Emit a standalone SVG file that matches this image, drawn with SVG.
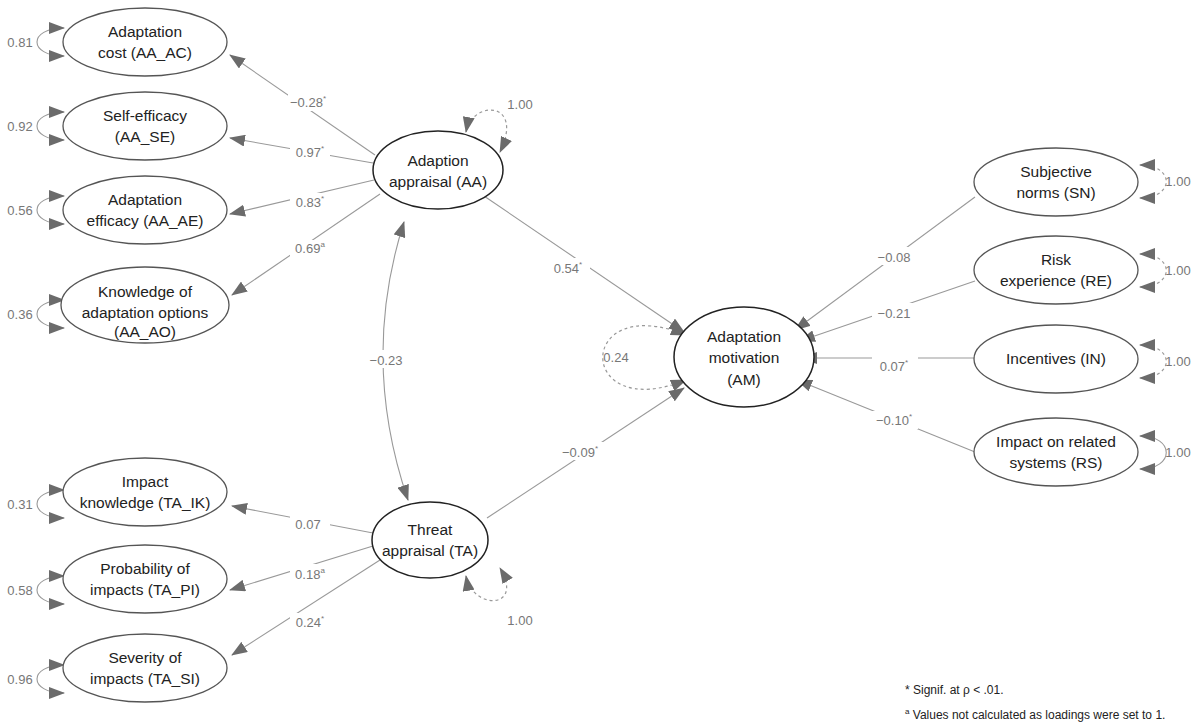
<svg xmlns="http://www.w3.org/2000/svg" width="1200" height="728" viewBox="0 0 1200 728">
<style>
text{font-family:"Liberation Sans",Arial,sans-serif}
.n ellipse{fill:#fff;stroke:#555;stroke-width:1.3}
.n text{font-size:15.5px;fill:#222;text-anchor:middle}
.lat ellipse{stroke:#222;stroke-width:1.5}
.c{stroke:#999;stroke-width:1.1;fill:none}
.d{stroke:#999;stroke-width:1.2;fill:none;stroke-dasharray:3 3}
.lb{font-size:13px;fill:#777;text-anchor:middle}
.bg{fill:#fff}
</style>
<defs>
<marker id="ah" markerWidth="16" markerHeight="12" refX="15" refY="6" orient="auto-start-reverse" markerUnits="userSpaceOnUse"><path d="M0,0L16,6L0,12Z" fill="#6b6b6b"/></marker>
</defs>
<rect width="1200" height="728" fill="#fff"/>
<g id="connectors">
<line class="c" x1="375" y1="155" x2="230" y2="55" marker-end="url(#ah)"/>
<line class="c" x1="373" y1="163" x2="230" y2="138" marker-end="url(#ah)"/>
<line class="c" x1="374" y1="180" x2="230" y2="214" marker-end="url(#ah)"/>
<line class="c" x1="380" y1="194" x2="232" y2="295" marker-end="url(#ah)"/>
<line class="c" x1="373" y1="533" x2="232" y2="506" marker-end="url(#ah)"/>
<line class="c" x1="373" y1="546" x2="230" y2="590" marker-end="url(#ah)"/>
<line class="c" x1="380" y1="560" x2="232" y2="655" marker-end="url(#ah)"/>
<line class="c" x1="484" y1="196" x2="684" y2="332" marker-end="url(#ah)"/>
<line class="c" x1="487" y1="518" x2="684" y2="388" marker-end="url(#ah)"/>
<line class="c" x1="975" y1="197" x2="795" y2="330" marker-end="url(#ah)"/>
<line class="c" x1="975" y1="281" x2="800" y2="341" marker-end="url(#ah)"/>
<line class="c" x1="975" y1="358" x2="802" y2="358" marker-end="url(#ah)"/>
<line class="c" x1="975" y1="452" x2="797" y2="380" marker-end="url(#ah)"/>
<path class="c" d="M404,222 Q360,360 408,500" marker-start="url(#ah)" marker-end="url(#ah)"/>
<path class="d" d="M466,132 C472,100 525,100 500,152" marker-start="url(#ah)" marker-end="url(#ah)"/>
<path class="d" d="M466,576 C472,610 525,610 500,568" marker-start="url(#ah)" marker-end="url(#ah)"/>
<path class="d" d="M686,335 C575,290 575,425 686,380" marker-start="url(#ah)" marker-end="url(#ah)"/>
<g id="var-left">
<path class="c" d="M64,28 C28,28 28,56 64,56" marker-start="url(#ah)" marker-end="url(#ah)"/>
<path class="c" d="M64,112 C28,112 28,140 64,140" marker-start="url(#ah)" marker-end="url(#ah)"/>
<path class="c" d="M64,196 C28,196 28,224 64,224" marker-start="url(#ah)" marker-end="url(#ah)"/>
<path class="c" d="M64,300 C28,300 28,328 64,328" marker-start="url(#ah)" marker-end="url(#ah)"/>
<path class="c" d="M64,490 C28,490 28,518 64,518" marker-start="url(#ah)" marker-end="url(#ah)"/>
<path class="c" d="M64,576 C28,576 28,604 64,604" marker-start="url(#ah)" marker-end="url(#ah)"/>
<path class="c" d="M64,665 C28,665 28,693 64,693" marker-start="url(#ah)" marker-end="url(#ah)"/>
</g>
<g id="var-right">
<path class="d" d="M1140,165 C1175,165 1175,198 1140,198" marker-start="url(#ah)" marker-end="url(#ah)"/>
<path class="d" d="M1140,254 C1175,254 1175,287 1140,287" marker-start="url(#ah)" marker-end="url(#ah)"/>
<path class="d" d="M1140,345 C1175,345 1175,378 1140,378" marker-start="url(#ah)" marker-end="url(#ah)"/>
<path class="c" d="M1140,436 C1175,436 1175,469 1140,469" marker-start="url(#ah)" marker-end="url(#ah)"/>
</g>
</g>
<g id="labels">
<rect class="bg" x="288" y="93" width="42" height="18"/><text class="lb" x="308" y="107">−0.28<tspan font-size="8" dy="-6">*</tspan></text>
<rect class="bg" x="290" y="142" width="40" height="18"/><text class="lb" x="310" y="157">0.97<tspan font-size="8" dy="-6">*</tspan></text>
<rect class="bg" x="290" y="193" width="40" height="18"/><text class="lb" x="310" y="207">0.83<tspan font-size="8" dy="-6">*</tspan></text>
<rect class="bg" x="290" y="240" width="40" height="18"/><text class="lb" x="310" y="253">0.69<tspan font-size="8" dy="-6">a</tspan></text>
<rect class="bg" x="290" y="515" width="40" height="18"/><text class="lb" x="308" y="529">0.07</text>
<rect class="bg" x="290" y="564" width="40" height="18"/><text class="lb" x="310" y="579">0.18<tspan font-size="8" dy="-6">a</tspan></text>
<rect class="bg" x="290" y="613" width="40" height="18"/><text class="lb" x="310" y="627">0.24<tspan font-size="8" dy="-6">*</tspan></text>
<rect class="bg" x="548" y="258" width="42" height="18"/><text class="lb" x="568" y="273">0.54<tspan font-size="8" dy="-6">*</tspan></text>
<rect class="bg" x="558" y="442" width="46" height="18"/><text class="lb" x="580" y="457">−0.09<tspan font-size="8" dy="-6">*</tspan></text>
<rect class="bg" x="872" y="247" width="46" height="18"/><text class="lb" x="894" y="262">−0.08</text>
<rect class="bg" x="872" y="303" width="46" height="18"/><text class="lb" x="894" y="318">−0.21</text>
<rect class="bg" x="872" y="357" width="46" height="18"/><text class="lb" x="894" y="371">0.07<tspan font-size="8" dy="-6">*</tspan></text>
<rect class="bg" x="872" y="411" width="46" height="18"/><text class="lb" x="894" y="425">−0.10<tspan font-size="8" dy="-6">*</tspan></text>
<rect class="bg" x="368" y="350" width="36" height="18"/><text class="lb" x="386" y="365">−0.23</text>
<text class="lb" x="520" y="109">1.00</text>
<text class="lb" x="520" y="625">1.00</text>
<text class="lb" x="616" y="362">0.24</text>
<text class="lb" x="20" y="47">0.81</text>
<text class="lb" x="20" y="131">0.92</text>
<text class="lb" x="20" y="215">0.56</text>
<text class="lb" x="20" y="319">0.36</text>
<text class="lb" x="20" y="509">0.31</text>
<text class="lb" x="20" y="595">0.58</text>
<text class="lb" x="20" y="684">0.96</text>
<text class="lb" x="1178" y="186">1.00</text>
<text class="lb" x="1178" y="275">1.00</text>
<text class="lb" x="1178" y="366">1.00</text>
<text class="lb" x="1178" y="457">1.00</text>
</g>
<g id="AA_AC" class="n"><ellipse cx="145" cy="42" rx="82" ry="34"/><text x="145" y="37">Adaptation</text><text x="145" y="58">cost (AA_AC)</text></g>
<g id="AA_SE" class="n"><ellipse cx="145" cy="126" rx="82" ry="34"/><text x="145" y="121">Self-efficacy</text><text x="145" y="142">(AA_SE)</text></g>
<g id="AA_AE" class="n"><ellipse cx="145" cy="210" rx="82" ry="34"/><text x="145" y="205">Adaptation</text><text x="145" y="226">efficacy (AA_AE)</text></g>
<g id="AA_AO" class="n"><ellipse cx="145" cy="305" rx="84" ry="38"/><text x="145" y="297">Knowledge of</text><text x="145" y="318">adaptation options</text><text x="145" y="337">(AA_AO)</text></g>
<g id="TA_IK" class="n"><ellipse cx="145" cy="492" rx="82" ry="34"/><text x="145" y="487">Impact</text><text x="145" y="508">knowledge (TA_IK)</text></g>
<g id="TA_PI" class="n"><ellipse cx="145" cy="579" rx="82" ry="34"/><text x="145" y="574">Probability of</text><text x="145" y="595">impacts (TA_PI)</text></g>
<g id="TA_SI" class="n"><ellipse cx="145" cy="668" rx="82" ry="34"/><text x="145" y="663">Severity of</text><text x="145" y="684">impacts (TA_SI)</text></g>
<g id="AA" class="n lat"><ellipse cx="438" cy="170" rx="65" ry="39"/><text x="438" y="166">Adaption</text><text x="438" y="187">appraisal (AA)</text></g>
<g id="TA" class="n lat"><ellipse cx="430" cy="540" rx="58" ry="38"/><text x="430" y="535">Threat</text><text x="430" y="556">appraisal (TA)</text></g>
<g id="AM" class="n lat"><ellipse cx="744" cy="357" rx="70" ry="50"/><text x="744" y="342">Adaptation</text><text x="744" y="363">motivation</text><text x="744" y="385">(AM)</text></g>
<g id="SN" class="n"><ellipse cx="1056" cy="182" rx="82" ry="34"/><text x="1056" y="177">Subjective</text><text x="1056" y="198">norms (SN)</text></g>
<g id="RE" class="n"><ellipse cx="1056" cy="270" rx="82" ry="34"/><text x="1056" y="265">Risk</text><text x="1056" y="286">experience (RE)</text></g>
<g id="IN" class="n"><ellipse cx="1056" cy="359" rx="82" ry="34"/><text x="1056" y="364">Incentives (IN)</text></g>
<g id="RS" class="n"><ellipse cx="1056" cy="452" rx="82" ry="34"/><text x="1056" y="447">Impact on related</text><text x="1056" y="468">systems (RS)</text></g>
<g id="notes" font-size="12" fill="#222"><text x="905" y="694">* Signif. at ρ &lt; .01.</text><text x="905" y="719"><tspan font-size="8" dy="-5">a</tspan><tspan dy="5"> Values not calculated as loadings were set to 1.</tspan></text></g>
</svg>
